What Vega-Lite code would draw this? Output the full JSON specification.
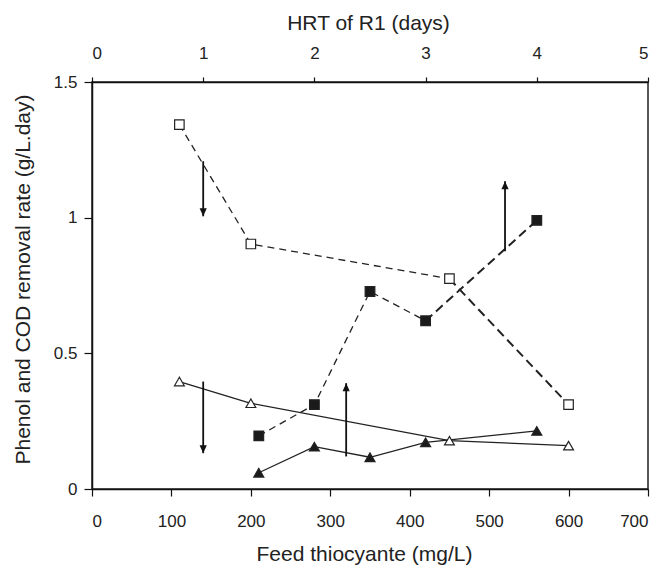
{
  "$schema": "https://vega.github.io/schema/vega-lite/v6.json",
  "width": 556,
  "height": 407,
  "autosize": {"type": "none"},
  "padding": {"left": 92, "top": 82, "right": 23, "bottom": 77},
  "background": "white",
  "config": {
    "view": {"stroke": "#222", "strokeWidth": 1.5},
    "font": "Liberation Sans",
    "axis": {
      "grid": false,
      "domainColor": "#111",
      "domainWidth": 1.5,
      "tickColor": "#111",
      "tickWidth": 1.2,
      "labelFont": "Liberation Sans",
      "labelFontSize": 17,
      "labelColor": "#222",
      "titleFont": "Liberation Sans",
      "titleFontSize": 21,
      "titleFontWeight": "normal",
      "titleColor": "#222"
    }
  },
  "datasets": {
    "points": [
      {"series": "COD A", "x": 110, "y": 1.343},
      {"series": "COD A", "x": 200, "y": 0.903},
      {"series": "COD A", "x": 450, "y": 0.775},
      {"series": "COD A", "x": 600, "y": 0.311},
      {"series": "COD B", "x": 210, "y": 0.196},
      {"series": "COD B", "x": 280, "y": 0.311},
      {"series": "COD B", "x": 350, "y": 0.728},
      {"series": "COD B", "x": 420, "y": 0.62},
      {"series": "COD B", "x": 560, "y": 0.99},
      {"series": "Phenol A", "x": 110, "y": 0.396},
      {"series": "Phenol A", "x": 200, "y": 0.316},
      {"series": "Phenol A", "x": 450, "y": 0.178},
      {"series": "Phenol A", "x": 600, "y": 0.16},
      {"series": "Phenol B", "x": 210, "y": 0.06},
      {"series": "Phenol B", "x": 280, "y": 0.156},
      {"series": "Phenol B", "x": 350, "y": 0.117},
      {"series": "Phenol B", "x": 420, "y": 0.172},
      {"series": "Phenol B", "x": 560, "y": 0.214}
    ],
    "arrows": [
      {"x": 140, "from": 1.208, "to": 1.005, "dir": "down"},
      {"x": 140, "from": 0.396, "to": 0.132, "dir": "down"},
      {"x": 320, "from": 0.12, "to": 0.39, "dir": "up"},
      {"x": 520, "from": 0.876, "to": 1.134, "dir": "up"}
    ],
    "hrt": [{"hrt": 0}, {"hrt": 5}]
  },
  "layer": [
    {
      "resolve": {"scale": {"shape": "independent", "fill": "independent", "size": "independent"}},
      "layer": [
        {
          "data": {"name": "points"},
          "transform": [{"filter": "datum.series == 'COD A' && datum.x <= 450"}],
          "mark": {"type": "line", "color": "#222", "strokeWidth": 1.3, "strokeDash": [7, 5]},
          "encoding": {
            "x": {
              "field": "x", "type": "quantitative",
              "scale": {"domain": [0, 700], "nice": false, "zero": true},
              "axis": {
                "values": [0, 100, 200, 300, 400, 500, 600, 700],
                "title": "Feed thiocyante (mg/L)",
                "tickSize": 7,
                "labelPadding": 17,
                "titlePadding": 14,
                "titleX": 272
              }
            },
            "y": {
              "field": "y", "type": "quantitative",
              "scale": {"domain": [0, 1.5], "nice": false},
              "axis": {
                "values": [0, 0.5, 1, 1.5],
                "format": "~g",
                "title": "Phenol and COD removal rate (g/L.day)",
                "tickSize": 8,
                "labelPadding": 7,
                "titlePadding": 20,
                "titleY": 197
              }
            }
          }
        },
        {
          "data": {"name": "points"},
          "transform": [{"filter": "datum.series == 'COD A' && datum.x >= 450"}],
          "mark": {"type": "line", "color": "#222", "strokeWidth": 2, "strokeDash": [9, 5]},
          "encoding": {
            "x": {"field": "x", "type": "quantitative"},
            "y": {"field": "y", "type": "quantitative"}
          }
        },
        {
          "data": {"name": "points"},
          "transform": [{"filter": "datum.series == 'COD B' && datum.x <= 420"}],
          "mark": {"type": "line", "color": "#222", "strokeWidth": 1.3, "strokeDash": [7, 5]},
          "encoding": {
            "x": {"field": "x", "type": "quantitative"},
            "y": {"field": "y", "type": "quantitative"}
          }
        },
        {
          "data": {"name": "points"},
          "transform": [{"filter": "datum.series == 'COD B' && datum.x >= 420"}],
          "mark": {"type": "line", "color": "#222", "strokeWidth": 2, "strokeDash": [9, 5]},
          "encoding": {
            "x": {"field": "x", "type": "quantitative"},
            "y": {"field": "y", "type": "quantitative"}
          }
        },
        {
          "data": {"name": "points"},
          "transform": [{"filter": "datum.series == 'Phenol A' || datum.series == 'Phenol B'"}],
          "mark": {"type": "line", "color": "#222", "strokeWidth": 1.3},
          "encoding": {
            "x": {"field": "x", "type": "quantitative"},
            "y": {"field": "y", "type": "quantitative"},
            "detail": {"field": "series"}
          }
        },
        {
          "data": {"name": "arrows"},
          "mark": {"type": "rule", "color": "#111", "strokeWidth": 1.8},
          "encoding": {
            "x": {"field": "x", "type": "quantitative"},
            "y": {"field": "from", "type": "quantitative"},
            "y2": {"field": "to"}
          }
        },
        {
          "data": {"name": "arrows"},
          "mark": {"type": "point", "filled": true, "color": "#111", "opacity": 1, "size": 256},
          "encoding": {
            "x": {"field": "x", "type": "quantitative"},
            "y": {"field": "to", "type": "quantitative"},
            "shape": {
              "field": "dir", "type": "nominal",
              "scale": {"domain": ["down", "up"], "range": ["M0,0L-0.45,-1L0.45,-1Z", "M0,0L-0.45,1L0.45,1Z"]},
              "legend": null
            }
          }
        },
        {
          "data": {"name": "points"},
          "mark": {"type": "point", "filled": true, "stroke": "#222", "strokeWidth": 1.2, "opacity": 1},
          "encoding": {
            "x": {"field": "x", "type": "quantitative"},
            "y": {"field": "y", "type": "quantitative"},
            "shape": {
              "field": "series", "type": "nominal",
              "scale": {"domain": ["COD A", "COD B", "Phenol A", "Phenol B"], "range": ["square", "square", "triangle-up", "triangle-up"]},
              "legend": null
            },
            "fill": {
              "field": "series", "type": "nominal",
              "scale": {"domain": ["COD A", "COD B", "Phenol A", "Phenol B"], "range": ["#ffffff", "#1a1a1a", "#ffffff", "#1a1a1a"]},
              "legend": null
            },
            "size": {
              "field": "series", "type": "nominal",
              "scale": {"domain": ["COD A", "COD B", "Phenol A", "Phenol B"], "range": [90, 100, 150, 150]},
              "legend": null
            }
          }
        }
      ]
    },
    {
      "data": {"name": "hrt"},
      "mark": {"type": "point", "opacity": 0},
      "encoding": {
        "x": {
          "field": "hrt", "type": "quantitative",
          "scale": {"domain": [0, 5], "nice": false},
          "axis": {
            "orient": "top",
            "values": [0, 1, 2, 3, 4, 5],
            "title": "HRT of R1 (days)",
            "tickSize": 5,
            "labelPadding": 15,
            "titlePadding": 11,
            "titleX": 276
          }
        }
      }
    }
  ],
  "resolve": {"scale": {"x": "independent"}}
}
